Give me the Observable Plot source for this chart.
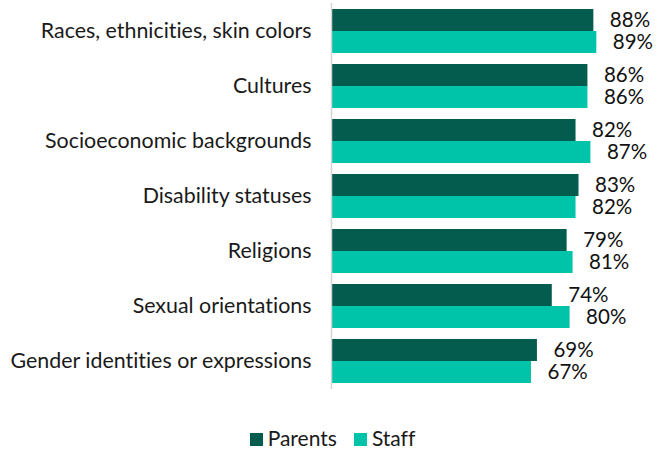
<!DOCTYPE html>
<html>
<head>
<meta charset="utf-8">
<script src="https://cdn.jsdelivr.net/npm/d3@7"></script>
<script src="https://cdn.jsdelivr.net/npm/@observablehq/plot@0.6"></script>
<style>
  body { margin: 0; background: #fff; font-family: Lato, sans-serif; }
  #chart { width: 665px; }
  svg text { font-variant-ligatures: none; }
  .legend { display: flex; justify-content: center; align-items: center; gap: 17px; margin-top: 27px; font-size: 21px; color: #1a1a1a; line-height: 22px; padding-left: 0px; font-variant-ligatures: none; }
  .legend span.sw { display: inline-block; width: 13px; height: 13px; margin-right: 5px; vertical-align: 0px; }
</style>
</head>
<body>
<div id="chart"></div>
<script>
const categories = [
  "Races, ethnicities, skin colors",
  "Cultures",
  "Socioeconomic backgrounds",
  "Disability statuses",
  "Religions",
  "Sexual orientations",
  "Gender identities or expressions"
];
const seriesNames = ["Parents", "Staff"];
const parents = [88, 86, 82, 83, 79, 74, 69];
const staff = [89, 86, 87, 82, 81, 80, 67];
const colors = ["#045c4f", "#00c4a9"];

const data = [];
categories.forEach((c, i) => {
  data.push({category: c, series: "Parents", value: parents[i]});
  data.push({category: c, series: "Staff", value: staff[i]});
});

const chart = Plot.plot({
  width: 665,
  height: 400,
  marginLeft: 332,
  marginRight: 36,
  marginTop: 2,
  marginBottom: 11,
  style: {fontFamily: "Lato, sans-serif", fontSize: "21px", color: "#1a1a1a", background: "#fff"},
  x: {domain: [0, 100], axis: null},
  fy: {domain: categories, paddingInner: 0.2, paddingOuter: 0.1, label: null},
  y: {domain: seriesNames, padding: 0, axis: null},
  color: {domain: seriesNames, range: colors},
  marks: [
    Plot.axisFy({anchor: "left", tickSize: 0, tickPadding: 21, label: null, fontSize: 21.4, fill: "#1a1a1a"}),
    Plot.barX(data, {fy: "category", y: "series", x: "value", fill: "series"}),
    Plot.text(data, {fy: "category", y: "series", x: "value", text: d => d.value + "%", textAnchor: "start", dx: 16, fontSize: 20.5, fill: "#111"}),
    Plot.ruleX([0], {stroke: "#d4d4d4", strokeWidth: 1.5, dx: -1, insetTop: -6, insetBottom: -6})
  ]
});
document.getElementById("chart").appendChild(chart);

const legend = document.createElement("div");
legend.className = "legend";
seriesNames.forEach((s, i) => {
  const item = document.createElement("div");
  item.innerHTML = `<span class="sw" style="background:${colors[i]}"></span>${s}`;
  legend.appendChild(item);
});
document.getElementById("chart").appendChild(legend);
</script>
</body>
</html>
